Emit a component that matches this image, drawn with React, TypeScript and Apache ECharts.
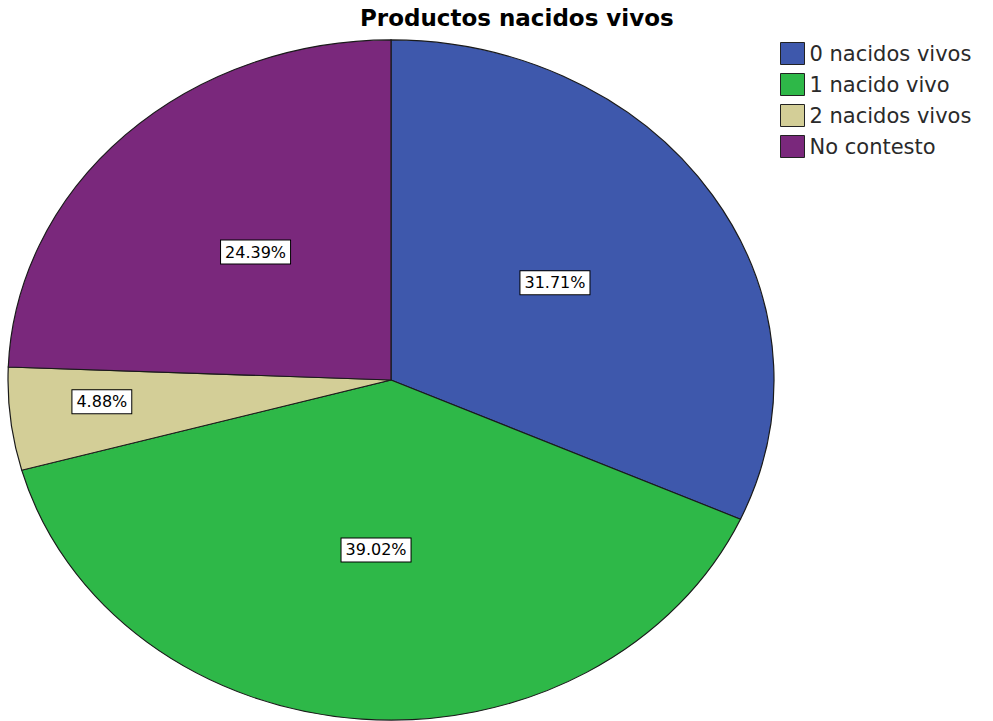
import React, { useEffect, useRef } from "react";
import * as echarts from "echarts";

const TITLE = "Productos nacidos vivos";
const CATEGORIES = ["0 nacidos vivos", "1 nacido vivo", "2 nacidos vivos", "No contesto"];
const VALUES = [31.71, 39.02, 4.88, 24.39];
const COLORS = ["#3e58ac", "#2eb848", "#d3ce97", "#7a287c"];

export default function App() {
  const ref = useRef<HTMLDivElement>(null);

  useEffect(() => {
    if (!ref.current) return;
    const chart = echarts.init(ref.current, undefined, { renderer: "svg" });
    const total = VALUES.reduce((a, b) => a + b, 0);
    const cum: number[] = [];
    let acc = 0;
    VALUES.forEach((v) => {
      cum.push(acc);
      acc += v;
    });
    const CX = 391;
    const CY = 380;
    const RX = 383;
    const RY = 340;

    const series = CATEGORIES.map((name, i) => ({
      type: "custom",
      name,
      coordinateSystem: "none",
      itemStyle: { color: COLORS[i] },
      data: [[VALUES[i]]],
      renderItem: (params: any, api: any) => {
        const v = api.value(0);
        const start = -Math.PI / 2 + (2 * Math.PI * cum[i]) / total;
        const end = start + (2 * Math.PI * v) / total;
        const mid = (start + end) / 2;
        const pct = (v / total) * 100;
        const lr = pct < 10 ? 0.76 : 0.51;
        return {
          type: "group",
          children: [
            {
              type: "sector",
              x: CX,
              y: CY,
              scaleY: RY / RX,
              shape: { cx: 0, cy: 0, r0: 0, r: RX, startAngle: start, endAngle: end, clockwise: true },
              style: { fill: COLORS[i], stroke: "#1a1a1a", lineWidth: 1.2 },
            },
            {
              type: "text",
              x: CX + lr * RX * Math.cos(mid),
              y: CY + lr * RY * Math.sin(mid) - (pct < 10 ? 8 : 3),
              style: {
                text: pct.toFixed(2) + "%",
                fill: "#000",
                font: '16px "DejaVu Sans", sans-serif',
                align: "center",
                verticalAlign: "middle",
                backgroundColor: "#ffffff",
                borderColor: "#000000",
                borderWidth: 1,
                padding: [4, 4, 3, 4],
              },
            },
          ],
        };
      },
    }));

    chart.setOption({
      animation: false,
      backgroundColor: "#ffffff",
      title: {
        text: TITLE,
        left: 360,
        top: 6,
        padding: 0,
        textStyle: {
          fontFamily: '"DejaVu Sans", sans-serif',
          fontWeight: "bold",
          fontSize: 23,
          color: "#000",
        },
      },
      legend: {
        orient: "vertical",
        left: 780,
        top: 42,
        padding: 0,
        itemGap: 8,
        itemWidth: 24,
        itemHeight: 22,
        icon: "rect",
        data: CATEGORIES,
        itemStyle: { borderColor: "#222", borderWidth: 1 },
        textStyle: {
          fontFamily: '"DejaVu Sans", sans-serif',
          fontSize: 21,
          lineHeight: 22,
          color: "#2a2a2a",
          padding: [0, 0, 0, 0],
        },
        selectedMode: false,
      },
      series,
    } as any);

    return () => chart.dispose();
  }, []);

  return (
    <div
      ref={ref}
      style={{ position: "fixed", left: 0, top: 0, width: 993, height: 721 }}
    />
  );
}
